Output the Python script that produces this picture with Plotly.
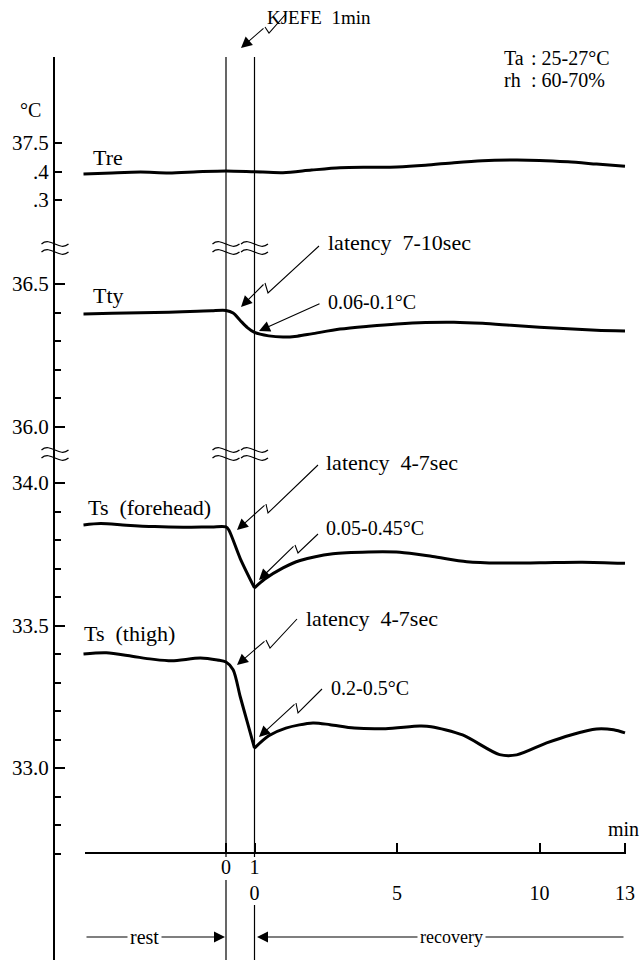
import plotly.graph_objects as go

# ---------------- data ----------------
# time in minutes from the start of the 1-min KJEFE period
# (rest: t < 0, KJEFE: 0..1, recovery: t >= 1 -> recovery minute = t - 1)
tre_t = [-5, -4, -3, -2, -1, 0, 1, 2, 3, 4, 5, 6, 7, 8, 9, 10, 11, 12, 13, 14]
tre_v = [37.391, 37.395, 37.398, 37.395, 37.399, 37.402, 37.399, 37.396, 37.405, 37.413,
         37.415, 37.416, 37.422, 37.431, 37.438, 37.440, 37.439, 37.434, 37.426, 37.418]

tty_t = [-5, -4, -3, -2, -1, -0.5, 0, 0.25, 0.5, 0.75, 1, 1.5, 2, 2.5, 3, 4, 5, 6, 7, 8,
         9, 10, 11, 12, 13, 14]
tty_v = [36.395, 36.397, 36.399, 36.401, 36.404, 36.406, 36.407, 36.398, 36.372, 36.347,
         36.330, 36.318, 36.314, 36.317, 36.325, 36.342, 36.352, 36.360, 36.365, 36.366,
         36.362, 36.355, 36.348, 36.343, 36.338, 36.335]

fh_t = [-5, -4.4, -3.5, -2.5, -1.5, -0.5, 0, 0.1, 0.5, 1,
        1.35, 2, 2.6, 3.75, 5, 6.1, 7.25, 8.45, 9.6, 11, 12.5, 14]
fh_v = [33.853, 33.858, 33.852, 33.847, 33.845, 33.846, 33.846, 33.835, 33.735, 33.632,
        33.662, 33.702, 33.728, 33.752, 33.758, 33.757, 33.742, 33.724, 33.719, 33.720,
        33.722, 33.718]

th_t = [-5, -4.2, -3.3, -2.6, -1.9, -0.9, -0.3, 0, 0.25, 0.5, 0.75, 1,
        1.5, 2.1, 3.05, 3.65, 4.5, 5.6, 6.8, 7.2, 8.3, 9.6, 10.2, 11.25, 12.1, 13, 13.6, 14]
th_v = [33.400, 33.404, 33.392, 33.382, 33.376, 33.386, 33.379, 33.372, 33.345, 33.250,
        33.160, 33.070,
        33.113, 33.140, 33.158, 33.152, 33.140, 33.138, 33.147, 33.145, 33.116, 33.047,
        33.046, 33.088, 33.116, 33.137, 33.134, 33.123]

x_tickvals = [0, 1, 6, 11, 14]
x_ticktext = ["0", "1<br>0", " <br>5", " <br>10", " <br>13"]

y1_ticks = [37.3, 37.4, 37.5]
y1_text = [".3", ".4", "37.5"]
y2_major = [36.0, 36.5]
y2_minor = [36.1, 36.2, 36.3, 36.4]
y3_major = [33.0, 33.5, 34.0]
y3_minor = [32.7, 32.8, 32.9, 33.1, 33.2, 33.3, 33.4, 33.6, 33.7, 33.8, 33.9]

# ---------------- geometry ----------------
W, H = 642, 963
L, R, T, B = 55, 638, 57, 960          # plot area in page pixels
PX_MIN = 28.5                            # pixels per minute
PX_DEG = 285.0                           # pixels per degree C
T0_PX = 226                              # page x of t = 0

FONT = "Liberation Serif, Times New Roman, serif"
FS_TICK = 21
FS_WORD = 22
FS_NUM = 20
INK = "black"
SP = "\u00a0"


def fx(px):
    return (px - L) / (R - L)


def fy(py):
    return (B - py) / (B - T)


def t_of(px):
    return (px - T0_PX) / PX_MIN


x_range = [t_of(L), t_of(R)]


def seg_axis(top, bottom, ref_val, ref_px):
    rng = [ref_val - (bottom - ref_px) / PX_DEG, ref_val + (ref_px - top) / PX_DEG]
    return dict(domain=[fy(bottom), fy(top)], range=rng)


seg1 = seg_axis(T, 248, 37.5, 143)
seg2 = seg_axis(248, 454, 36.5, 284)
seg3 = seg_axis(454, B, 34.0, 483)

fig = go.Figure()

line_style = dict(color=INK, width=3, shape="spline", smoothing=0.8)


def add_series(t, v, yaxis, split_at=None):
    if split_at is None:
        fig.add_trace(go.Scatter(x=t, y=v, yaxis=yaxis, mode="lines", line=line_style,
                                 hoverinfo="skip"))
        return
    i = t.index(split_at)
    fig.add_trace(go.Scatter(x=t[:i + 1], y=v[:i + 1], yaxis=yaxis, mode="lines",
                             line=line_style, hoverinfo="skip"))
    fig.add_trace(go.Scatter(x=t[i:], y=v[i:], yaxis=yaxis, mode="lines",
                             line=line_style, hoverinfo="skip"))


add_series(tre_t, tre_v, "y")
add_series(tty_t, tty_v, "y2")
add_series(fh_t, fh_v, "y3", split_at=1)
add_series(th_t, th_v, "y3", split_at=1)

axis_common = dict(showline=True, linecolor=INK, linewidth=2, showgrid=False,
                   zeroline=False, ticks="inside", tickcolor=INK, tickwidth=1.5,
                   tickfont=dict(family=FONT, size=FS_TICK, color=INK), anchor="x",
                   fixedrange=True)

fig.update_layout(
    width=W, height=H,
    margin=dict(l=L, r=W - R, t=T, b=H - B),
    paper_bgcolor="white", plot_bgcolor="white",
    showlegend=False,
    xaxis=dict(range=x_range, domain=[0, 1], anchor="free", position=fy(853),
               showline=False, showgrid=False, zeroline=False,
               tickmode="array", tickvals=x_tickvals, ticktext=x_ticktext,
               ticks="inside", ticklen=10, tickwidth=1.5, tickcolor=INK,
               tickfont=dict(family=FONT, size=FS_NUM, color=INK), fixedrange=True),
    yaxis=dict(**seg1, **axis_common, tickmode="array", tickvals=y1_ticks,
               ticktext=y1_text, ticklen=7),
    yaxis2=dict(**seg2, **axis_common, tickmode="array", tickvals=y2_major,
                ticktext=[f"{v:.1f}" for v in y2_major], ticklen=10,
                minor=dict(tickmode="array", tickvals=y2_minor, ticklen=6,
                           tickwidth=1.5, tickcolor=INK, ticks="inside")),
    yaxis3=dict(**seg3, **axis_common, tickmode="array", tickvals=y3_major,
                ticktext=[f"{v:.1f}" for v in y3_major], ticklen=10,
                minor=dict(tickmode="array", tickvals=y3_minor, ticklen=6,
                           tickwidth=1.5, tickcolor=INK, ticks="inside")),
)

shapes = []

# time axis line
shapes.append(dict(type="line", xref="x", yref="paper", x0=t_of(85), x1=t_of(626),
                   y0=fy(853), y1=fy(853), line=dict(color=INK, width=2)))

# KJEFE start / end lines (interrupted behind the time labels)
for t_line, gap in [(0, (857, 880)), (1, (857, 905))]:
    shapes.append(dict(type="line", xref="x", yref="paper", x0=t_line, x1=t_line,
                       y0=fy(T), y1=fy(gap[0]), line=dict(color=INK, width=1.2)))
    shapes.append(dict(type="line", xref="x", yref="paper", x0=t_line, x1=t_line,
                       y0=fy(gap[1]), y1=fy(B), line=dict(color=INK, width=1.2)))


# axis-break marks
def wave(cx, cy, w=27, c=8):
    x0, x1 = cx - w / 2, cx + w / 2
    return (f"M {fx(x0)},{fy(cy)} C {fx(cx - w / 6)},{fy(cy - c)} "
            f"{fx(cx + w / 6)},{fy(cy + c)} {fx(x1)},{fy(cy)}")


for by in (248, 454):
    for bx in (L, T0_PX, T0_PX + PX_MIN):
        for dy in (-4, 4):
            shapes.append(dict(type="path", xref="paper", yref="paper",
                               path=wave(bx, by + dy), line=dict(color=INK, width=1.2)))

annotations = []

ARROW = dict(showarrow=True, arrowhead=2, arrowsize=2.0, arrowwidth=1.1,
             arrowcolor=INK, standoff=0, text="")


def lightning(points):
    """Zig-zag pointer: polyline through the points, arrowhead on the last one."""
    *body, q, e = points
    pts = body + [q]
    if len(pts) > 1:
        path = "M " + " L ".join(f"{fx(px)},{fy(py)}" for px, py in pts)
        shapes.append(dict(type="path", xref="paper", yref="paper", path=path,
                           line=dict(color=INK, width=1.1)))
    annotations.append(dict(xref="paper", yref="paper", x=fx(e[0]), y=fy(e[1]),
                            ax=q[0] - e[0], ay=q[1] - e[1], **ARROW))


lightning([(285, 15), (269, 33), (265, 27), (241, 48)])
lightning([(319, 246), (268, 293), (265, 283), (241, 307)])
lightning([(321, 303), (259, 331)])
lightning([(318, 465), (268, 513), (266, 504), (237, 530)])
lightning([(318, 534), (298, 553), (295, 545), (259, 580)])
lightning([(297, 619), (270, 648), (266, 640), (237, 665)])
lightning([(322, 689), (298, 713), (296, 703), (259, 737)])


def label(text, px, py, size, xanchor="left", bg=None):
    d = dict(xref="paper", yref="paper", x=fx(px), y=fy(py), text=text,
             showarrow=False, xanchor=xanchor, yanchor="middle",
             font=dict(family=FONT, size=size, color=INK))
    if bg:
        d.update(bgcolor=bg, borderpad=2)
    annotations.append(d)


label("Tre", 91, 157, FS_WORD)
label("Tty", 91, 295, FS_WORD)
label(f"Ts{SP} (forehead)", 86, 507, FS_WORD)
label(f"Ts{SP} (thigh)", 82, 634, FS_WORD)
label(f"latency{SP} 7-10sec", 326, 242, FS_WORD)
label("0.06-0.1°C", 326, 302, FS_NUM)
label(f"latency{SP} 4-7sec", 324, 462, FS_WORD)
label("0.05-0.45°C", 324, 528, FS_NUM)
label(f"latency{SP} 4-7sec", 304, 618, FS_WORD)
label("0.2-0.5°C", 329, 688, FS_NUM)
label(f"KJEFE{SP} 1min", 265, 17, 19)
label("Ta", 502, 58, FS_NUM)
label(": 25-27°C", 529, 58, FS_NUM)
label("rh", 502, 80, FS_NUM)
label(": 60-70%", 529, 80, FS_NUM)
label("°C", 30, 110, FS_NUM, xanchor="center")
label("min", 641, 829, FS_NUM, xanchor="right")

# rest / recovery spans
annotations.append(dict(xref="x", yref="paper", x=t_of(225), y=fy(937),
                        axref="x", ayref="pixel", ax=t_of(85), ay=0, **ARROW))
annotations.append(dict(xref="x", yref="paper", x=t_of(257), y=fy(937),
                        axref="x", ayref="pixel", ax=t_of(625), ay=0, **ARROW))
label("rest", 144, 937, FS_NUM, xanchor="center", bg="white")
label("recovery", 451, 937, 18, xanchor="center", bg="white")

fig.update_layout(shapes=shapes, annotations=annotations)

fig.write_html("out.html")
